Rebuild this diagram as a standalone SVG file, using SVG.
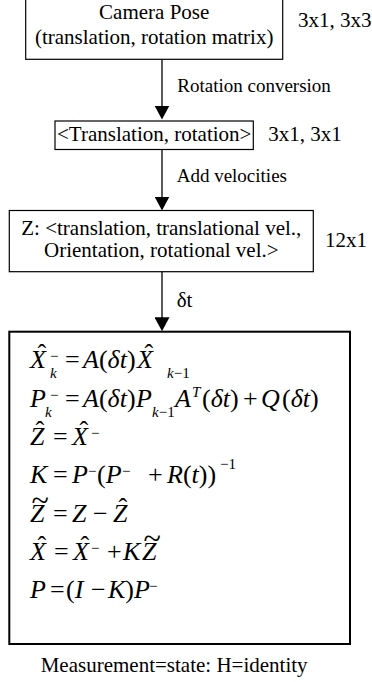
<svg xmlns="http://www.w3.org/2000/svg" width="372" height="682" viewBox="0 0 372 682" font-family="Liberation Serif, serif">
<style>
.t21 { font-family: "Liberation Serif", serif; font-size: 21px; fill: #000; }
.t19 { font-family: "Liberation Serif", serif; font-size: 19px; fill: #000; }
.eq { font-family: "Liberation Serif", serif; font-size: 26px; fill: #000; }
.c { text-anchor: middle; }
.box { fill: #fff; stroke: #000; stroke-width: 1.2; }
.box4 { fill: #fff; stroke: #000; stroke-width: 2; }
.edge { stroke: #000; stroke-width: 1.3; fill: none; }
.i { font-style: italic; }
.s { font-size: 15px; }
.tl { font-size: 32px; }
</style>
<defs>
<marker id="ah" markerWidth="14" markerHeight="15" refX="7" refY="7.5" orient="auto" markerUnits="userSpaceOnUse">
<path d="M0,0 L14,7.5 L0,15 z" fill="#000"/>
</marker>
</defs>

<g id="connectors" font-family="Liberation Serif, serif">
<line class="edge" x1="162" y1="59.5" x2="162" y2="112.5" marker-end="url(#ah)"/>
<line class="edge" x1="162" y1="149.5" x2="162" y2="203.5" marker-end="url(#ah)"/>
<line class="edge" x1="162" y1="271.7" x2="162" y2="324.2" marker-end="url(#ah)"/>
<text class="t19" x="177.3" y="91.7">Rotation conversion</text>
<text class="t19" x="176.7" y="181.7">Add velocities</text>
<text class="t21" x="176.7" y="306.7">&#948;t</text>
</g>

<g id="camera-pose" font-family="Liberation Serif, serif">
<rect class="box" x="25.7" y="-2" width="257" height="61.3"/>
<text class="t21 c" x="154.2" y="18.5">Camera Pose</text>
<text class="t21 c" x="154.2" y="43.5">(translation, rotation matrix)</text>
<text class="t21" x="298" y="27">3x1, 3x3</text>
</g>

<g id="translation-rotation" font-family="Liberation Serif, serif">
<rect class="box" x="55" y="121" width="198.3" height="28.5"/>
<text class="t21 c" x="154.2" y="140.5">&lt;Translation, rotation&gt;</text>
<text class="t21" x="268.3" y="140.5">3x1, 3x1</text>
</g>

<g id="state-z" font-family="Liberation Serif, serif">
<rect class="box" x="9.3" y="210.5" width="304" height="61.2"/>
<text class="t21 c" x="161.3" y="235">Z: &lt;translation, translational vel.,</text>
<text class="t21 c" x="161.3" y="256.7">Orientation, rotational vel.&gt;</text>
<text class="t21" x="325" y="247">12x1</text>
</g>

<g id="kalman-filter" font-family="Liberation Serif, serif">
<rect class="box4" x="9.3" y="331.7" width="340.7" height="312.3"/>
<text class="eq"><tspan class="i" x="30" y="368">X</tspan><tspan x="37.5" y="362">&#710;</tspan><tspan class="s" x="50" y="361">&#8722;</tspan><tspan class="s i" x="50" y="378">k</tspan><tspan x="65" y="368">=</tspan><tspan class="i" x="83" y="368">A</tspan><tspan>(</tspan><tspan class="i">&#948;t</tspan><tspan>)</tspan><tspan class="i" x="137" y="368">X</tspan><tspan x="144.5" y="362">&#710;</tspan><tspan class="s i" x="167" y="378">k</tspan><tspan class="s">&#8722;1</tspan></text>
<text class="eq"><tspan class="i" x="30" y="407">P</tspan><tspan class="s" x="50" y="400">&#8722;</tspan><tspan class="s i" x="45" y="417">k</tspan><tspan x="65" y="407">=</tspan><tspan class="i" x="83" y="407">A</tspan><tspan>(</tspan><tspan class="i">&#948;t</tspan><tspan>)</tspan><tspan class="i" x="136" y="407">P</tspan><tspan class="s i" x="152" y="417">k</tspan><tspan class="s">&#8722;1</tspan><tspan class="i" x="175" y="407">A</tspan><tspan class="s i" x="192" y="397">T</tspan><tspan x="202" y="407">(</tspan><tspan class="i">&#948;t</tspan><tspan>)</tspan><tspan x="243" y="407">+</tspan><tspan class="i" x="261" y="407">Q</tspan><tspan x="282" y="407">(</tspan><tspan class="i">&#948;t</tspan><tspan>)</tspan></text>
<text class="eq"><tspan class="i" x="30" y="445">Z</tspan><tspan x="35.5" y="439">&#710;</tspan><tspan x="53" y="445">=</tspan><tspan class="i" x="72" y="445">X</tspan><tspan x="79.5" y="439">&#710;</tspan><tspan class="s" x="91" y="438">&#8722;</tspan></text>
<text class="eq"><tspan class="i" x="30" y="483">K</tspan><tspan x="53" y="483">=</tspan><tspan class="i" x="72" y="483">P</tspan><tspan class="s" x="88" y="476">&#8722;</tspan><tspan x="97" y="483">(</tspan><tspan class="i">P</tspan><tspan class="s" x="122" y="476">&#8722;</tspan><tspan x="148" y="483">+</tspan><tspan class="i" x="167" y="483">R</tspan><tspan>(</tspan><tspan class="i">t</tspan><tspan>))</tspan><tspan class="s" x="220" y="469">&#8722;1</tspan></text>
<text class="eq"><tspan class="i" x="30" y="522">Z</tspan><tspan class="tl" x="31.5" y="510.5">~</tspan><tspan x="53" y="522">=</tspan><tspan class="i" x="72" y="522">Z</tspan><tspan x="93" y="522">&#8722;</tspan><tspan class="i" x="113" y="522">Z</tspan><tspan x="118.5" y="516">&#710;</tspan></text>
<text class="eq"><tspan class="i" x="30" y="560">X</tspan><tspan x="37.5" y="554">&#710;</tspan><tspan x="54" y="560">=</tspan><tspan class="i" x="73" y="560">X</tspan><tspan x="80.5" y="554">&#710;</tspan><tspan class="s" x="91" y="553">&#8722;</tspan><tspan x="107" y="560">+</tspan><tspan class="i" x="123" y="560">K</tspan><tspan class="i" x="142" y="560">Z</tspan><tspan class="tl" x="143.5" y="548.5">~</tspan></text>
<text class="eq"><tspan class="i" x="30" y="598">P</tspan><tspan x="50" y="598">=</tspan><tspan x="66" y="598">(</tspan><tspan class="i">I</tspan><tspan x="91" y="598">&#8722;</tspan><tspan class="i" x="108" y="598">K</tspan><tspan>)</tspan><tspan class="i" x="134" y="598">P</tspan><tspan class="s" x="149" y="591">&#8722;</tspan></text>
</g>

<text class="t21" x="40.7" y="671.7">Measurement=state: H=identity</text>
</svg>
